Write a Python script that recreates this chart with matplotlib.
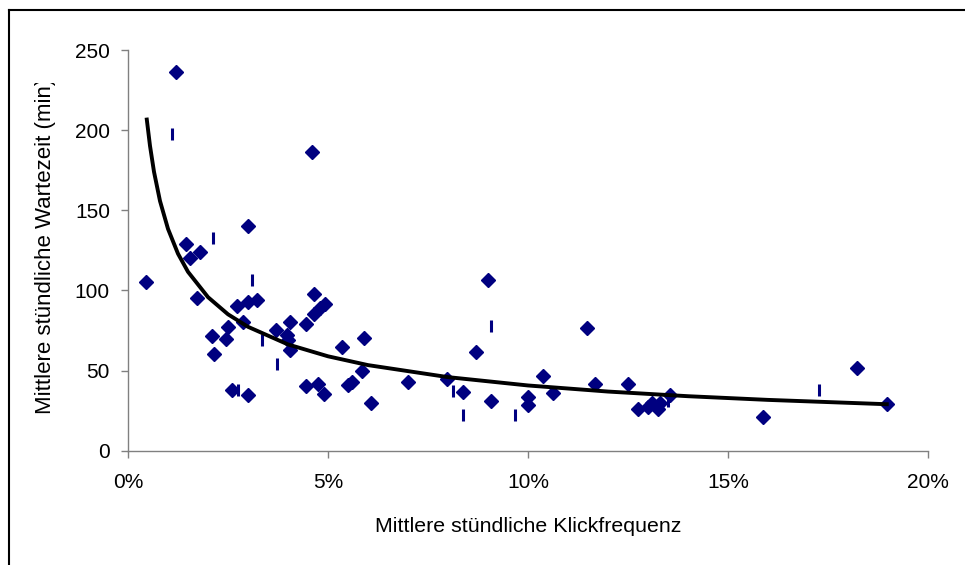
import numpy as np
import matplotlib
matplotlib.use("Agg")
import matplotlib.pyplot as plt
from matplotlib.ticker import FuncFormatter
from matplotlib.transforms import Bbox
from matplotlib.lines import Line2D

plt.rcParams['font.family'] = ['Liberation Sans', 'DejaVu Sans']

# Klickfrequenz in %, Wartezeit in min
klick = [0.45, 1.21, 1.45, 1.55, 1.72, 1.80, 2.11, 2.16, 2.45, 2.51, 2.59, 2.73,
         2.87, 3.01, 3.01, 3.01, 3.22, 3.70, 3.98, 4.01, 4.05, 4.05, 4.45, 4.45,
         4.61, 4.66, 4.66, 4.76, 4.80, 4.90, 4.93, 5.36, 5.51, 5.61, 5.86, 5.90,
         6.07, 7.01, 7.98, 8.37, 8.70, 9.01, 9.07, 10.01, 10.01, 10.37, 10.62,
         11.47, 11.68, 12.51, 12.76, 13.00, 13.10, 13.25, 13.30, 13.55, 15.87,
         18.22, 18.97]
warte = [105.2, 236.5, 129, 120, 95.2, 124, 71.7, 60.2, 69.6, 77.1, 37.9, 90,
         80.6, 140, 92.7, 34.8, 93.8, 75, 72.3, 69.2, 80.2, 63, 79.2, 40.4,
         186.5, 98, 85.2, 41.5, 89, 35.3, 91.7, 65, 41, 43.1, 50, 70.2,
         30, 42.7, 44.6, 36.5, 61.5, 106.3, 31.3, 33.8, 28.6, 46.9, 35.9,
         76.5, 41.5, 41.7, 26, 27, 29.5, 26, 30, 34.8, 21.3,
         51.5, 29]

# zweite Reihe (Strich-Marker)
klick2 = [1.11, 2.12, 2.76, 3.11, 3.36, 3.72, 8.12, 8.37, 9.08, 9.68, 13.50, 17.27]
warte2 = [197.7, 132.7, 38, 106.7, 68.8, 54, 37, 22.3, 78, 22.3, 31, 38]

# Trendlinie (Potenz)
trend_x = [0.47, 0.55, 0.65, 0.8, 1.0, 1.25, 1.5, 2, 2.5, 3, 4, 5, 6, 8, 10,
           12, 14, 16, 18.97]
trend_y = [206.6, 190.2, 174.0, 155.8, 138.4, 122.9, 111.6, 95.8, 85.1, 77.3,
           66.3, 58.9, 53.4, 45.9, 40.7, 36.9, 34.0, 31.7, 29.0]

W, H = 965, 565
fig = plt.figure(figsize=(W / 100, H / 100), dpi=100)
ax = fig.add_axes([128 / W, 1 - 450.7 / H, 800 / W, 400.7 / H])

ax.plot(klick, warte, linestyle='none', marker='D', ms=7.5, color='#000080',
        markeredgecolor='#000080', zorder=3)
ax.plot(klick2, warte2, linestyle='none', marker='|', ms=8.5, mew=2.2,
        color='#000080', zorder=3)
ax.plot(trend_x, trend_y, color='black', lw=2.8, zorder=4)

ax.set_xlim(0, 20)
ax.set_ylim(0, 250)
ax.set_xticks([0, 5, 10, 15, 20])
ax.set_yticks([0, 50, 100, 150, 200, 250])
ax.xaxis.set_major_formatter(FuncFormatter(lambda v, p: '%d%%' % v))

for s in ['top', 'right']:
    ax.spines[s].set_visible(False)
for s in ['left', 'bottom']:
    ax.spines[s].set_color('#808080')
    ax.spines[s].set_linewidth(1)
ax.tick_params(axis='both', direction='out', length=5, width=1,
               color='#808080', labelsize=15, labelcolor='black')
ax.tick_params(axis='y', pad=8)
ax.tick_params(axis='x', pad=11)

ax.set_xlabel('Mittlere stündliche Klickfrequenz', fontsize=15.4, labelpad=18)

# y-Beschriftung, oben abgeschnitten
ylab = fig.text(46 / W, 1 - 414 / H, 'Mittlere stündliche Wartezeit (min)',
                rotation=90, ha='center', va='bottom', fontsize=16)
ylab.set_clip_box(Bbox([[0, 0], [W, H - 83]]))
ylab.set_clip_on(True)

# Rahmen links und oben
fig.add_artist(Line2D([8.5 / W, 8.5 / W], [0, 1 - 10 / H], color='black', lw=1.5,
                      transform=fig.transFigure))
fig.add_artist(Line2D([8.5 / W, 1], [1 - 10 / H, 1 - 10 / H], color='black', lw=1.5,
                      transform=fig.transFigure))

fig.savefig('out.png', dpi=100)
